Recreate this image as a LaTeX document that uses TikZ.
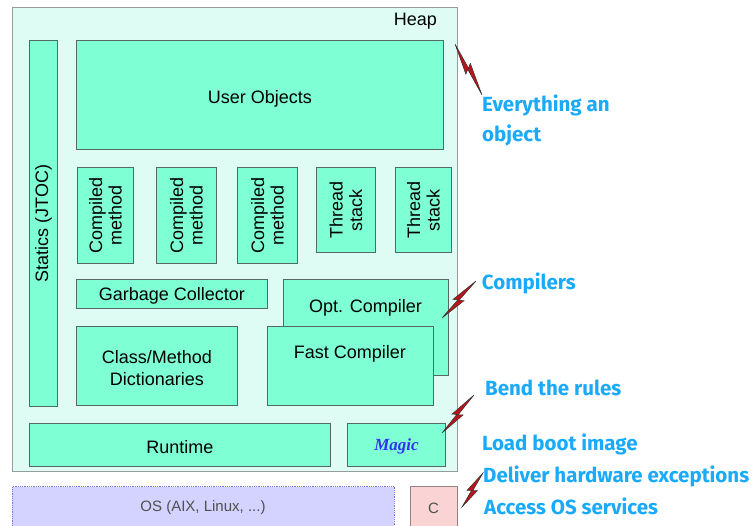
\documentclass[tikz,border=0pt]{standalone}
\usepackage{fontspec}
\setmainfont{Liberation Sans}
\newfontfamily\labfont{Fira Sans}
\newfontfamily\magicfont{Liberation Serif}
\usetikzlibrary{calc}
\definecolor{heapfill}{RGB}{222,252,244}
\definecolor{heapdraw}{RGB}{150,155,155}
\definecolor{boxfill}{RGB}{127,255,212}
\definecolor{boxdraw}{RGB}{85,105,100}
\definecolor{osfill}{RGB}{212,210,255}
\definecolor{osdraw}{RGB}{120,120,210}
\definecolor{cfill}{RGB}{250,212,212}
\definecolor{cdraw}{RGB}{150,130,130}
\definecolor{labblue}{RGB}{25,170,250}
\definecolor{magicblue}{RGB}{50,50,240}
\definecolor{boltred}{RGB}{185,20,25}
\definecolor{ostext}{RGB}{80,80,80}
\newcommand\boltdraw[2]{%
  \filldraw[bolt] (#1) -- ($(#1)!0.55!(#2)!4.5pt!-90:(#2)$) -- ($(#1)!0.49!(#2)!0.6pt!-90:(#2)$)
    -- (#2) -- ($(#1)!0.42!(#2)!4.5pt!90:(#2)$) -- ($(#1)!0.48!(#2)!0.6pt!90:(#2)$) -- cycle;}
\begin{document}
\begin{tikzpicture}[x=1pt,y=1pt,
  box/.style={draw=boxdraw, fill=boxfill, line width=0.9pt, inner sep=0pt, anchor=south west},
  heapbox/.style={draw=heapdraw, fill=heapfill, line width=0.9pt, inner sep=0pt, anchor=south west},
  txt/.style={font=\fontsize{18}{20}\selectfont, text=black, inner sep=0pt, yshift=-2pt},
  rtxt/.style={font=\fontsize{18}{19.5}\selectfont, text=black, inner sep=0pt, rotate=90, align=center},
  lab/.style={font=\labfont\bfseries\fontsize{20.5}{22}\selectfont, text=labblue, anchor=base west, inner sep=0pt},
  bolt/.style={fill=boltred, draw=black!80, line width=0.5pt, line join=miter}]
\useasboundingbox (0,0) rectangle (756,526);
\fill[white] (0,0) rectangle (756,526);

% heap
\node[heapbox, minimum width=445pt, minimum height=464pt] (heap) at (12,54) {};
\node[txt, anchor=base east, yshift=2pt] (heaplab) at (437,500) {Heap};

% boxes
\node[box, minimum width=367pt, minimum height=109pt] (user) at (76,376) {};
\node[txt, yshift=-1.5pt] (usert) at (user.center) {User Objects};
\node[box, minimum width=28pt, minimum height=366pt] (stat) at (29,119) {};
\node[rtxt] (statt) at (stat.center) {Statics (JTOC)};

\node[box, minimum width=56pt, minimum height=96pt] (cm1) at (77,262) {};
\node[box, minimum width=60pt, minimum height=96pt] (cm2) at (156,262) {};
\node[box, minimum width=60pt, minimum height=96pt] (cm3) at (237,262) {};
\node[box, minimum width=59pt, minimum height=85pt] (ts1) at (316,273) {};
\node[box, minimum width=56pt, minimum height=85pt] (ts2) at (395,273) {};
\foreach \b in {cm1,cm2,cm3}{
  \node[rtxt] (\b t) at (\b.center) {Compiled\\method};}
\foreach \b in {ts1,ts2}{
  \node[rtxt] (\b t) at (\b.center) {Thread\\stack};}

\node[box, minimum width=191pt, minimum height=29pt] (gc) at (76,217) {};
\node[txt] (gct) at (gc.center) {Garbage Collector};
\node[box, minimum width=165pt, minimum height=96pt] (opt) at (283,150) {};
\node[txt] (optt) at (365.5,220) {Opt. Compiler};
\node[box, minimum width=166pt, minimum height=79pt] (fast) at (267,120) {};
\node[txt] (fastt) at (350,174) {Fast Compiler};
\node[box, minimum width=161pt, minimum height=79pt] (cls) at (76,120) {};
\node[txt, align=center, font=\fontsize{18}{21.5}\selectfont] (clst) at (cls.center) {Class/Method\\Dictionaries};

\node[box, minimum width=301pt, minimum height=43pt] (rt) at (29,59) {};
\node[txt] (rtt) at (rt.center) {Runtime};
\node[box, minimum width=98pt, minimum height=43pt] (magic) at (347,59) {};
\node[inner sep=0pt, text=magicblue, yshift=-1pt, font=\magicfont\bfseries\itshape\fontsize{17}{19}\selectfont] (magict) at (magic.center) {Magic};

% OS and C
\node[draw=osdraw, densely dotted, fill=osfill, line width=0.8pt, inner sep=0pt, anchor=south west,
      minimum width=382pt, minimum height=49pt] (os) at (12,-10) {};
\node[inner sep=0pt, text=ostext, font=\fontsize{15}{17}\selectfont] (ost) at (203,18) {OS (AIX, Linux, ...)};
\node[draw=cdraw, fill=cfill, line width=0.8pt, inner sep=0pt, anchor=south west,
      minimum width=47pt, minimum height=49pt] (cbox) at (410,-10) {};
\node[inner sep=0pt, text=ostext, font=\fontsize{15}{17}\selectfont] (ct) at (433.5,18) {C};

% labels
\node[lab] (l1) at (482,414.3) {Everything an};
\node[lab] (l1b) at (482,384.5) {object};
\node[lab] (l2) at (481.7,236.7) {Compilers};
\node[lab] (l3) at (485,130) {Bend the rules};
\node[lab] (l4) at (482,75.3) {Load boot image};
\node[lab] (l5) at (483,43.3) {Deliver hardware exceptions};
\node[lab] (l6) at (484,11) {Access OS services};

% bolts
\coordinate (b1s) at (455,482); \coordinate (b1e) at (482,431);
\coordinate (b2s) at (442,208); \coordinate (b2e) at (476,245);
\coordinate (b3s) at (442,93);  \coordinate (b3e) at (474,131);
\coordinate (b4s) at (462,19);  \coordinate (b4e) at (483,53);
\boltdraw{b1s}{b1e}
\boltdraw{b2s}{b2e}
\boltdraw{b3s}{b3e}
\boltdraw{b4s}{b4e}
\end{tikzpicture}
\end{document}
